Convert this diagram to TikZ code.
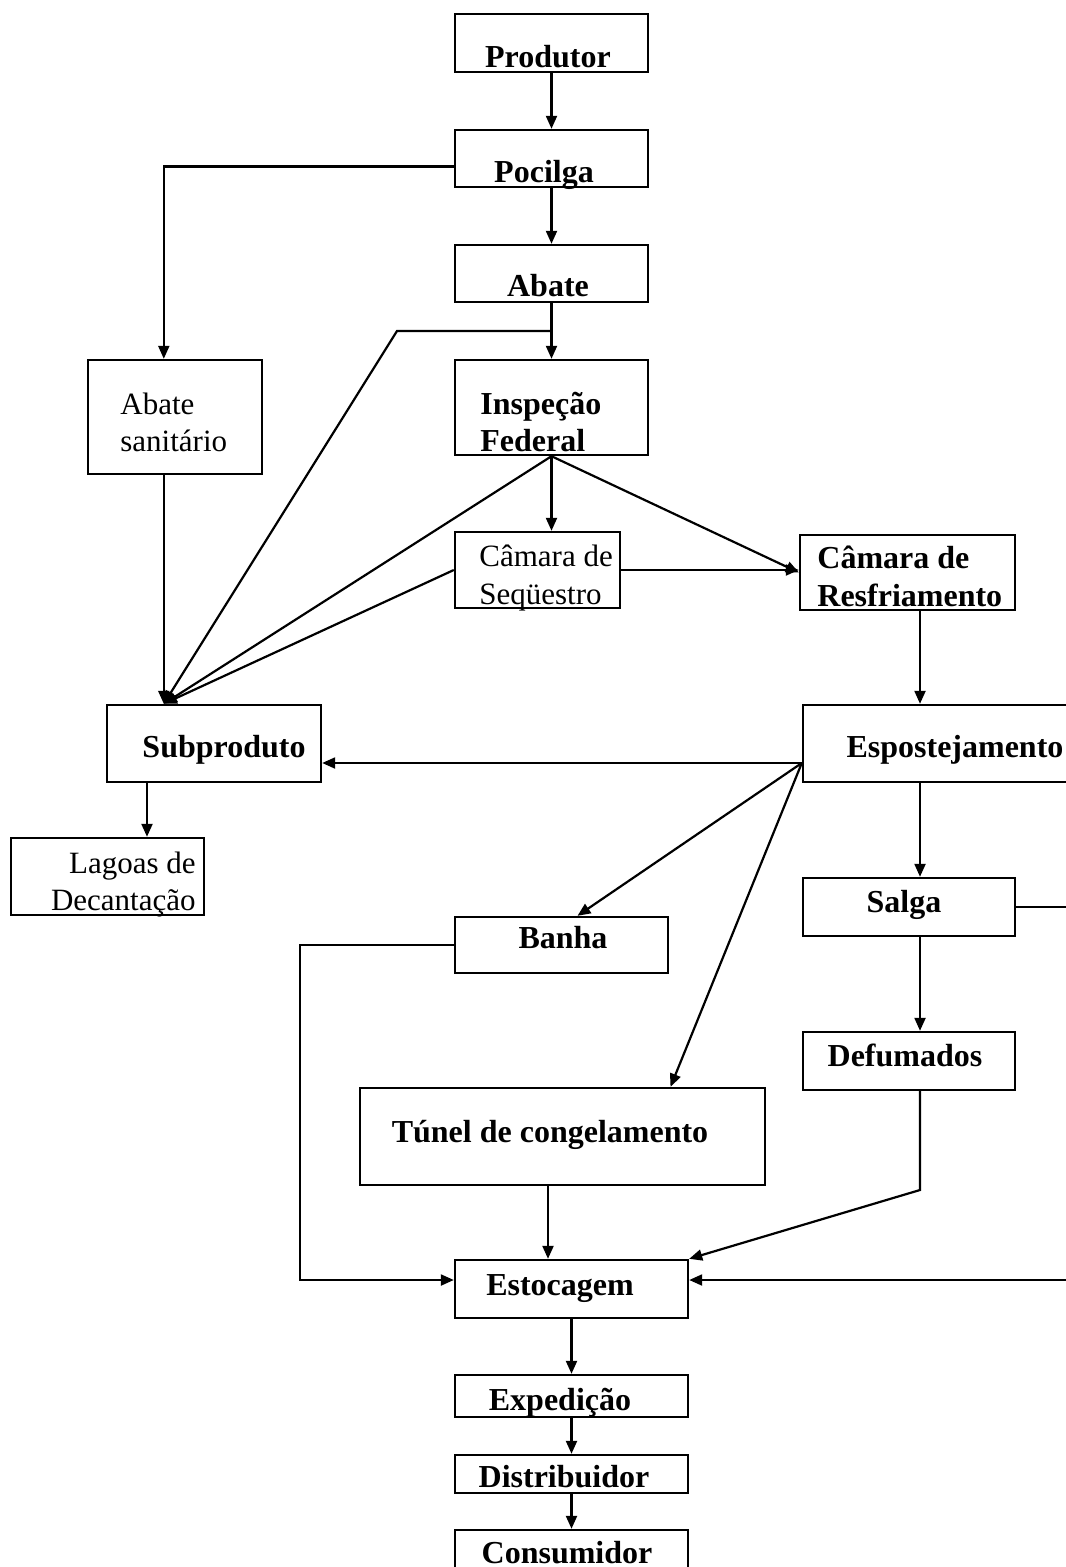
\documentclass[tikz,border=0pt]{standalone}
\usepackage{fontspec}
\setmainfont{Liberation Serif}
\usetikzlibrary{fit,arrows.meta,calc}
\begin{document}
\begin{tikzpicture}[x=0.5pt,y=-0.5pt,
  box/.style={draw, line width=1.2pt, inner sep=0pt},
  tb/.style={anchor=base, inner sep=0pt, font=\fontsize{16}{18.5}\selectfont\bfseries},
  tbw/.style={tb, anchor=base west},
  tr/.style={anchor=base west, inner sep=0pt, font=\fontsize{15.5}{18.5}\selectfont},
  tre/.style={tr, anchor=base east},
  arr/.style={line width=1.1pt, -{Triangle[length=6.5pt,width=5.5pt]}}]
\useasboundingbox (0,0) rectangle (1065,1567);
\fill[white] (0,0) rectangle (1065,1567);

% boxes
\node[box, fit={(455,14) (648,72)}] (prod) {};
\node[box, fit={(455,130) (648,187)}] (poc) {};
\node[box, fit={(455,245) (648,302)}] (abate) {};
\node[box, fit={(455,360) (648,455)}] (insp) {};
\node[box, fit={(88,360) (262,474)}] (absan) {};
\node[box, fit={(455,532) (620,608)}] (seq) {};
\node[box, fit={(800,535) (1015,610)}] (resf) {};
\node[box, fit={(107,705) (321,782)}] (sub) {};
\node[box, fit={(803,705) (1090,782)}] (esp) {};
\node[box, fit={(11,838) (204,915)}] (lag) {};
\node[box, fit={(803,878) (1015,936)}] (salga) {};
\node[box, fit={(455,917) (668,973)}] (banha) {};
\node[box, fit={(803,1032) (1015,1090)}] (defum) {};
\node[box, fit={(360,1088) (765,1185)}] (tunel) {};
\node[box, fit={(455,1260) (688,1318)}] (est) {};
\node[box, fit={(455,1375) (688,1417)}] (exp) {};
\node[box, fit={(455,1455) (688,1493)}] (dist) {};
\node[box, fit={(455,1530) (688,1580)}] (cons) {};

% texts
\node[tb] (prodT) at (548,68) {Produtor};
\node[tb] (pocT) at (544,183) {Pocilga};
\node[tb] (abateT) at (548,297) {Abate};
\node[tbw] (inspT1) at (480,414) {Inspeção};
\node[tbw] (inspT2) at (480,451) {Federal};
\node[tr] (absanT1) at (120,414) {Abate};
\node[tr] (absanT2) at (120,451) {sanitário};
\node[tr] (seqT1) at (479,566) {Câmara de};
\node[tr] (seqT2) at (479,604) {Seqüestro};
\node[tbw] (resfT1) at (817,568) {Câmara de};
\node[tbw] (resfT2) at (817,606) {Resfriamento};
\node[tb] (subT) at (224,757) {Subproduto};
\node[tb] (espT) at (955,757) {Espostejamento};
\node[tre] (lagT1) at (196,873) {Lagoas de};
\node[tre] (lagT2) at (196,910) {Decantação};
\node[tb] (salgaT) at (904,912) {Salga};
\node[tb] (banhaT) at (563,948) {Banha};
\node[tb] (defumT) at (905,1066) {Defumados};
\node[tb] (tunelT) at (550,1142) {Túnel de congelamento};
\node[tb] (estT) at (560,1295) {Estocagem};
\node[tb] (expT) at (560,1410) {Expedição};
\node[tb] (distT) at (564,1487) {Distribuidor};
\node[tb] (consT) at (567,1563) {Consumidor};

% helper coordinates
\coordinate (subin) at ($(sub.north west)+(58,0)$);
\coordinate (br) at ($(abate.south)!0.5!(insp.north)$);
\coordinate (bend) at (397,330);
\coordinate (cx) at (920,0);
\coordinate (ey) at (0,763);
\coordinate (eo) at (esp.west |- ey);
\coordinate (rx) at (1080,1280);
\coordinate (lx) at (147,0);
\coordinate (bx) at (300,1280);
\coordinate (tx) at (548,0);
\coordinate (dk) at (920,1190);

% connectors
\draw[arr] (prod.south) -- (poc.north);
\draw[arr] (poc.south) -- (abate.north);
\draw[arr] ([yshift=-4pt]poc.west) -| (subin |- absan.north);
\draw[arr] (abate.south) -- (insp.north);
\draw[arr] (br) -- (bend |- br) -- (subin);
\draw[arr] (subin |- absan.south) -- (subin);
\draw[arr] (insp.south) -- (insp.south |- seq.north);
\draw[arr] (insp.south) -- (subin);
\draw[arr] (insp.south) -- (resf.west);
\draw[arr] (seq.west) -- (subin);
\draw[arr] (seq.east) -- (seq.east -| resf.west);
\draw[arr] (resf.south -| cx) -- (esp.north -| cx);
\draw[arr] (eo) -- (sub.east |- ey);
\draw[arr] (eo) -- ([xshift=8pt]banha.north);
\draw[arr] (eo) -- ([xshift=54pt]tunel.north);
\draw[arr] (esp.south -| cx) -- (salga.north -| cx);
\draw[arr] (salga.south -| cx) -- (defum.north -| cx);
\draw[arr] (salga.east) -- (salga.east -| rx) -- (rx) -- (est.east |- rx);
\draw[arr] (sub.south -| lx) -- (lag.north -| lx);
\draw[arr] (banha.west) -- (banha.west -| bx) -- (bx) -- (est.west |- bx);
\draw[arr] (tunel.south -| tx) -- (est.north -| tx);
\draw[arr] (defum.south -| cx) -- (dk) -- (est.north east);
\draw[arr] (est.south) -- (exp.north);
\draw[arr] (exp.south) -- (dist.north);
\draw[arr] (dist.south) -- (cons.north);
\end{tikzpicture}
\end{document}
